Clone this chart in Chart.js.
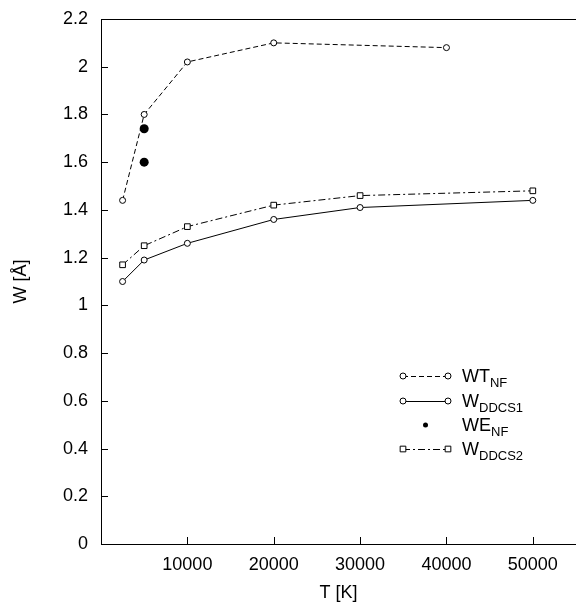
<!DOCTYPE html>
<html>
<head>
<meta charset="utf-8">
<script src="https://cdn.jsdelivr.net/npm/chart.js@4/dist/chart.umd.min.js"></script>
<style>
  html, body { margin: 0; padding: 0; background: #fff; }
  #wrap { width: 576px; height: 604px; }
</style>
</head>
<body>
<div id="wrap"><canvas id="graphique"></canvas></div>
<script>
// data
var tempsT = [2500, 5000, 10000, 20000, 30000, 50000];
var wtNfT = [2500, 5000, 10000, 20000, 40000];
var wtNf = [1.44, 1.80, 2.02, 2.10, 2.08];
var weNfT = [5000, 5000];
var weNf = [1.74, 1.60];
var wDdcs1 = [1.10, 1.19, 1.26, 1.36, 1.41, 1.44];
var wDdcs2 = [1.17, 1.25, 1.33, 1.42, 1.46, 1.48];

var xTicks = [10000, 20000, 30000, 40000, 50000];
var yTicks = [0, 0.2, 0.4, 0.6, 0.8, 1, 1.2, 1.4, 1.6, 1.8, 2, 2.2];

// legend names: main part + subscript
var legendMain = ['WT', 'W', 'WE', 'W'];
var legendSub = ['NF', 'DDCS1', 'NF', 'DDCS2'];

var police = '"Liberation Sans", Arial, Helvetica, sans-serif';

function points(xs, ys) {
    var arr = [];
    for (var i = 0; i < ys.length; i++) arr.push({x: xs[i], y: ys[i]});
    return arr;
}

function etiquette(v) {
    return String(Math.round(v * 10) / 10);
}

// inward tick marks, top frame line and the legend with subscripts
var cadre = {
    id: 'cadre',
    afterDraw: function (chart) {
        var ctx = chart.ctx;
        var a = chart.chartArea;
        var sx = chart.scales.x, sy = chart.scales.y;
        ctx.save();
        ctx.strokeStyle = '#000';
        ctx.lineWidth = 1;
        ctx.beginPath();
        ctx.moveTo(a.left, a.top + 0.5);
        ctx.lineTo(a.right, a.top + 0.5);
        for (var i = 0; i < xTicks.length; i++) {
            var px = Math.round(sx.getPixelForValue(xTicks[i])) + 0.5;
            ctx.moveTo(px, a.bottom);
            ctx.lineTo(px, a.bottom - 7);
        }
        for (var j = 0; j < yTicks.length; j++) {
            var py = Math.round(sy.getPixelForValue(yTicks[j])) + 0.5;
            ctx.moveTo(a.left, py);
            ctx.lineTo(a.left + 7, py);
        }
        ctx.stroke();

        // legend
        var x0 = 403, x1 = 448, xt = 462;
        var rows = [376, 401, 425, 449];
        for (var k = 0; k < chart.data.datasets.length; k++) {
            var ds = chart.data.datasets[k];
            var y = rows[k];
            ctx.strokeStyle = '#000';
            ctx.fillStyle = '#000';
            if (ds.showLine !== false) {
                ctx.setLineDash(ds.borderDash || []);
                ctx.lineWidth = 1;
                ctx.beginPath();
                ctx.moveTo(x0, y + 0.5);
                ctx.lineTo(x1, y + 0.5);
                ctx.stroke();
                ctx.setLineDash([]);
                ctx.fillStyle = ds.pointBackgroundColor;
                Chart.helpers.drawPoint(ctx, {pointStyle: ds.pointStyle, radius: ds.pointRadius, rotation: 0, borderWidth: 1}, x0, y);
                ctx.fillStyle = ds.pointBackgroundColor;
                Chart.helpers.drawPoint(ctx, {pointStyle: ds.pointStyle, radius: ds.pointRadius, rotation: 0, borderWidth: 1}, x1, y);
            } else {
                ctx.beginPath();
                ctx.arc((x0 + x1) / 2, y, 2.5, 0, Math.PI * 2);
                ctx.fill();
            }
            ctx.fillStyle = '#000';
            ctx.textBaseline = 'alphabetic';
            ctx.textAlign = 'left';
            ctx.font = '18px ' + police;
            ctx.fillText(legendMain[k], xt, y + 6);
            var w = ctx.measureText(legendMain[k]).width;
            ctx.font = '13px ' + police;
            ctx.fillText(legendSub[k], xt + w, y + 11);
        }
        ctx.restore();
    }
};

var ctx = document.getElementById('graphique').getContext('2d');
var chart = new Chart(ctx, {
    type: 'line',
    data: {
        datasets: [
            {
                label: 'WT_NF',
                data: points(wtNfT, wtNf),
                borderColor: '#000',
                borderWidth: 1,
                borderDash: [5, 3],
                pointStyle: 'circle',
                pointRadius: 3,
                pointBorderWidth: 1,
                pointBorderColor: '#000',
                pointBackgroundColor: '#fff',
                fill: false
            },
            {
                label: 'W_DDCS1',
                data: points(tempsT, wDdcs1),
                borderColor: '#000',
                borderWidth: 1,
                pointStyle: 'circle',
                pointRadius: 3,
                pointBorderWidth: 1,
                pointBorderColor: '#000',
                pointBackgroundColor: '#fff',
                fill: false
            },
            {
                label: 'WE_NF',
                data: points(weNfT, weNf),
                showLine: false,
                borderColor: '#000',
                pointStyle: 'circle',
                pointRadius: 4.5,
                pointBorderWidth: 0,
                pointBackgroundColor: '#000',
                fill: false
            },
            {
                label: 'W_DDCS2',
                data: points(tempsT, wDdcs2),
                borderColor: '#000',
                borderWidth: 1,
                borderDash: [7, 3, 2, 3],
                pointStyle: 'rect',
                pointRadius: 4,
                pointBorderWidth: 1,
                pointBorderColor: '#000',
                pointBackgroundColor: '#fff',
                fill: false
            }
        ]
    },
    options: {
        responsive: true,
        maintainAspectRatio: false,
        animation: false,
        layout: { autoPadding: false, padding: { top: 19, right: 0, left: 0, bottom: 0 } },
        plugins: {
            legend: { display: false },
            tooltip: { enabled: false }
        },
        scales: {
            x: {
                type: 'linear',
                min: 0,
                max: 55000,
                afterBuildTicks: function (s) { s.ticks = xTicks.map(function (v) { return {value: v}; }); },
                afterFit: function (s) { s.height = 60; s.paddingLeft = 0; s.paddingRight = 0; },
                grid: { display: false, drawTicks: false },
                border: { display: true, color: '#000', width: 1 },
                ticks: { color: '#000', font: { family: police, size: 18 }, padding: 10, maxRotation: 0, autoSkip: false, callback: etiquette },
                title: { display: true, text: 'T [K]', color: '#000', font: { family: police, size: 18 }, padding: { top: 4, bottom: 0 } }
            },
            y: {
                min: 0,
                max: 2.2,
                afterBuildTicks: function (s) { s.ticks = yTicks.map(function (v) { return {value: v}; }); },
                afterFit: function (s) { s.width = 101; s.paddingTop = 0; s.paddingBottom = 0; },
                grid: { display: false, drawTicks: false },
                border: { display: true, color: '#000', width: 1 },
                ticks: { color: '#000', font: { family: police, size: 18 }, padding: 13, autoSkip: false, callback: etiquette },
                title: { display: true, text: 'W [Å]', color: '#000', font: { family: police, size: 18 }, padding: { top: 10, bottom: 0 } }
            }
        }
    },
    plugins: [cadre]
});
</script>
</body>
</html>
